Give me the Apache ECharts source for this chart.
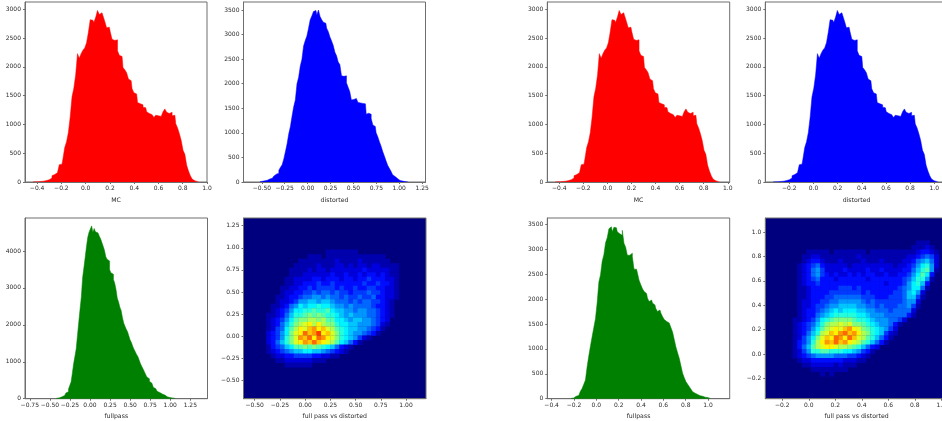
<!DOCTYPE html>
<html><head><meta charset="utf-8">
<style>html,body{margin:0;padding:0;background:#fff}#c{width:942px;height:421px;filter:blur(.35px)}</style>
<script src="https://cdn.jsdelivr.net/npm/echarts@6/dist/echarts.min.js"></script>
</head><body><div id="c"></div>
<script>
// ---------- histogram counts ----------
const mcCounts=[2,3,4,5,10,15,15,25,35,40,70,110,130,160,190,300,310,400,600,700,860,1130,1480,1630,1860,2230,2150,2230,2290,2330,2420,2600,2820,2810,2770,2860,2980,2910,2940,2890,2790,2680,2690,2610,2480,2460,2470,2280,2200,2180,1990,1950,1900,1790,1760,1620,1550,1530,1380,1360,1340,1300,1290,1220,1190,1170,1160,1120,1160,1150,1140,1170,1220,1270,1210,1190,1210,1150,1160,1010,940,840,720,550,480,290,190,110,50,20,10,5];
const distortedCounts=[5,15,20,25,35,50,60,75,95,120,160,180,240,300,350,470,620,780,980,1130,1340,1530,1670,2000,2130,2360,2500,2770,2880,2970,3130,3300,3380,3470,3490,3400,3500,3370,3300,3250,3230,3130,3060,2950,2870,2780,2640,2570,2440,2390,2160,2150,2160,2020,1930,1840,1670,1680,1700,1660,1620,1610,1600,1600,1590,1380,1400,1380,1290,1160,1130,1000,920,820,730,620,530,430,340,280,220,150,110,70,50,30,20,15,8,5,2];
const fullpassCounts=[8,15,25,35,50,65,90,120,155,190,260,360,450,690,950,1150,1350,1720,2080,2430,2760,3280,3550,3830,4120,4370,4510,4520,4680,4510,4610,4520,4490,4460,4400,4330,4230,4130,4020,3850,3780,3730,3500,3410,3370,3230,3130,2960,2720,2620,2480,2390,2200,2050,1960,1880,1810,1700,1590,1520,1420,1340,1270,1200,1140,1050,950,880,810,740,660,590,540,470,420,370,310,270,240,200,170,150,130,115,100,80,65,50,40,30,22,15,10,6];
const mcCounts2=mcCounts;
const distortedCounts2=mcCounts;
const fullpassCounts2=[8,15,30,50,65,95,150,205,290,375,640,860,1060,1250,1430,1610,1930,2340,2490,2760,2890,3130,3230,3410,3450,3350,3440,3430,3350,3310,3280,3380,3120,3040,2880,2880,2920,2850,2600,2600,2530,2380,2290,2210,2150,2110,2020,1950,1980,1920,1880,1810,1750,1780,1720,1650,1590,1550,1520,1510,1430,1340,1190,1040,920,810,660,510,420,340,290,240,190,140,110,85,72,60,48,38,30,22,15,8];

// ---------- 2D density, top row first: [first column, values...] (scale 0-22) ----------
const heatLeft=[[],[],[],[],[],[],[],
[18,1,1,1,1,1,1,1],
[14,1,1,1,0,1,1,1,1,1,1,1,1,1,1,1,1,1],
[12,1,1,1,1,1,1,1,1,2,1,1,1,1,2,1,1,1,1,1,1],
[11,1,1,1,1,1,2,1,1,1,2,2,1,2,1,2,2,1,2,2,1,1,1,1],
[10,1,1,1,1,2,1,2,2,1,2,2,2,2,2,2,2,3,2,2,2,2,2,1,1],
[10,1,1,1,2,2,2,2,2,2,3,2,2,3,2,2,3,2,3,3,2,3,2,1,1],
[9,1,1,2,2,2,2,3,3,2,3,3,3,2,3,3,2,3,3,4,3,3,3,2,2,1],
[9,1,1,2,2,3,3,3,4,3,3,4,3,3,3,3,3,3,4,3,3,4,3,3,2,1],
[8,1,1,2,2,3,3,4,3,4,4,4,4,3,4,3,3,4,3,3,4,4,3,3,2,2,1],
[8,1,2,2,3,3,4,4,5,4,5,5,4,5,4,4,3,4,4,4,5,4,4,3,2,2,1],
[7,1,1,2,3,3,4,5,5,6,6,5,6,5,5,4,5,4,4,5,4,4,5,3,3,2,2,1],
[7,1,2,2,3,4,6,6,7,7,6,7,7,6,5,5,5,4,5,4,5,5,4,4,3,2,1],
[6,1,1,2,3,5,6,8,7,8,8,9,8,8,7,6,6,5,6,5,5,5,5,4,3,3,2,1],
[6,1,2,3,4,6,8,8,9,9,10,9,9,10,8,7,7,6,6,5,6,6,5,5,4,3,2,1],
[5,1,1,2,3,5,7,9,9,10,11,10,11,10,9,9,8,7,6,7,6,6,6,5,5,4,3,2,1],
[5,1,2,3,4,6,8,10,11,11,12,12,11,12,10,10,8,8,7,6,7,7,6,6,5,4,3,2],
[5,1,2,3,5,7,9,11,12,13,14,12,14,12,11,11,9,8,8,7,7,6,6,6,5,4,2,1],
[5,1,2,4,5,8,10,12,14,13,15,16,14,15,13,12,10,9,8,7,7,6,6,5,4,3,1],
[5,2,3,4,6,8,11,13,14,17,15,16,18,14,15,13,11,9,8,7,6,6,5,4,3,1],
[5,2,3,4,6,9,11,13,16,15,17,14,17,16,14,13,11,9,8,7,6,4,2,1],
[5,2,3,5,7,9,11,13,14,16,15,17,15,14,13,12,10,8,7,5,3,1],
[5,1,3,4,5,7,8,10,10,11,10,11,10,9,8,7,5,3,2,1],
[5,1,2,3,4,5,6,7,7,8,8,7,7,6,5,4,3,2,1],
[6,1,2,2,3,3,4,4,4,4,3,3,2,2,1,1],
[7,1,1,2,2,2,2,2,2,1,1,1],
[9,1,1,1,1,1,1],
[],[],[],[],[],[],[]];
const heatRight=[[],[],[],[],[],
[33,1,1,1],
[32,1,1,1,2,1],
[9,1,1,1,1,1,0,1,1,1,1,1,1,1,0,1,1,1,1,1,1,1,1,1,1,2,3,3,2,1],
[8,1,1,2,2,1,1,1,1,1,1,1,1,2,1,1,1,1,1,1,1,1,1,1,2,2,3,4,5,4,2],
[8,1,2,3,3,2,1,1,1,2,1,1,1,1,2,1,1,1,2,1,1,1,1,2,2,3,5,6,7,5,2],
[7,1,2,3,4,5,3,2,2,2,2,2,1,2,2,2,2,2,2,2,2,2,1,2,2,3,4,6,8,9,6,2],
[7,1,2,3,5,6,4,2,2,2,2,3,2,2,2,2,3,2,2,3,2,2,2,2,3,3,5,7,9,10,6,1],
[7,1,2,3,5,6,4,3,2,3,2,2,3,2,3,2,3,3,2,2,3,2,2,3,3,4,6,8,10,8,3],
[7,1,2,3,4,5,3,3,3,2,3,3,3,3,3,3,2,3,3,3,3,3,3,3,4,5,7,9,9,6,1],
[7,1,2,3,3,4,3,3,3,3,3,3,3,3,3,3,3,3,3,3,2,3,3,3,4,6,8,9,7,3],
[7,1,1,2,3,3,3,3,3,3,4,4,4,3,4,3,3,3,3,3,3,3,3,4,5,6,8,8,5,1],
[7,1,1,2,3,3,3,3,4,4,4,4,4,4,4,3,4,3,3,3,3,3,4,4,5,7,8,6,2],
[7,1,1,2,3,3,3,4,4,5,5,5,5,5,5,4,4,4,3,3,3,4,4,4,5,7,7,4,1],
[7,1,2,2,3,3,4,4,5,5,6,6,6,6,6,5,4,5,4,4,4,4,4,4,5,6,6,2],
[7,1,2,2,3,4,4,5,6,6,7,7,7,7,6,6,5,5,4,5,4,4,4,5,5,6,4,1],
[7,1,2,3,3,4,5,6,7,8,7,8,8,8,7,7,6,6,5,5,5,4,5,5,5,5,2],
[7,1,2,3,3,5,6,7,8,9,9,9,9,9,8,8,7,6,6,6,5,5,5,5,5,3,1],
[6,1,1,2,3,4,6,8,9,10,11,11,11,11,10,9,9,8,7,6,6,6,5,5,4,2],
[6,1,2,3,4,5,7,9,11,12,12,13,12,13,11,11,10,9,8,7,6,6,5,3,1],
[6,1,2,3,4,6,8,10,12,13,14,13,15,16,14,13,11,10,9,8,7,6,4,2],
[6,1,2,3,5,7,9,12,13,15,14,16,17,15,16,14,12,11,9,8,7,4,2,1],
[6,1,2,4,6,8,11,13,15,14,17,16,14,17,15,13,12,10,9,7,5,3,1],
[6,1,3,4,6,9,12,14,16,15,17,15,16,14,13,12,10,9,7,5,3,1],
[6,1,3,5,7,10,12,13,14,14,13,12,12,11,10,9,7,5,3,2],
[6,1,2,4,6,9,9,10,10,9,9,9,8,8,7,6,4,3,1],
[6,1,2,3,4,5,6,6,6,6,5,5,5,4,4,3,2,1],
[7,1,2,2,3,3,3,3,3,3,3,2,2,2,1,1],
[8,1,1,2,2,2,2,2,1,2,1,1,1],
[10,1,1,1,1,1,1,1,1],
[12,1,0,1],
[],[],[],[],[]];

// ---------- tick values ----------
const ticksMcX=[-0.4,-0.2,0,0.2,0.4,0.6,0.8,1.0];
const ticksQuarterX=[-0.5,-0.25,0,0.25,0.5,0.75,1.0,1.25];
const ticksFullX=[-0.75,-0.5,-0.25,0,0.25,0.5,0.75,1.0,1.25];
const ticksHeatLeftX=[-0.5,-0.25,0,0.25,0.5,0.75,1.0];
const ticksHeatLeftY=[-0.5,-0.25,0,0.25,0.5,0.75,1.0,1.25];
const ticksDist2X=[-0.2,0,0.2,0.4,0.6,0.8,1.0];
const ticksHeatRightX=[-0.2,0,0.2,0.4,0.6,0.8,1.0];
const ticksHeatRightY=[-0.2,0,0.2,0.4,0.6,0.8,1.0];
const ticksCount3000=[0,500,1000,1500,2000,2500,3000];
const ticksCount3500=[0,500,1000,1500,2000,2500,3000,3500];
const ticksCount4000=[0,1000,2000,3000,4000];

// ---------- panels ----------
const jet=['#00007f','#0000ff','#007fff','#00ffff','#7fff7f','#ffff00','#ff7f00','#ff0000','#7f0000'];
const panels=[
 {box:[25,2,182,180],xr:[-0.5,1.0],yr:[0,3127],xt:ticksMcX,yt:ticksCount3000,dx:1,name:'MC',counts:mcCounts,start:-0.435,w:0.015,color:'#ff0000'},
 {box:[243.5,2,182,180],xr:[-0.70,1.287],yr:[0,3663],xt:ticksQuarterX,yt:ticksCount3500,dx:2,name:'distorted',counts:distortedCounts,start:-0.521,w:0.018,color:'#0000ff'},
 {box:[25,218,182.5,180.7],xr:[-0.81,1.464],yr:[0,4894],xt:ticksFullX,yt:ticksCount4000,dx:2,name:'fullpass',counts:fullpassCounts,start:-0.42,w:0.016,color:'#008000'},
 {box:[243.5,218,182.5,180.7],xr:[-0.611,1.198],yr:[-0.708,1.337],xt:ticksHeatLeftX,yt:ticksHeatLeftY,dx:2,dy:2,name:'full pass vs distorted',grid:heatLeft},
 {box:[547.3,2,182.4,180],xr:[-0.5,1.016],yr:[0,3127],xt:ticksMcX,yt:ticksCount3000,dx:1,name:'MC',counts:mcCounts2,start:-0.435,w:0.015,color:'#ff0000'},
 {box:[765.3,2,182.5,180],xr:[-0.399,1.112],yr:[0,3127],xt:ticksDist2X,yt:ticksCount3000,dx:1,name:'distorted',counts:distortedCounts2,start:-0.335,w:0.015,color:'#0000ff'},
 {box:[547.3,218,182.4,180.7],xr:[-0.439,1.194],yr:[0,3627],xt:ticksMcX,yt:ticksCount3500,dx:1,name:'fullpass',counts:fullpassCounts2,start:-0.225,w:0.015,color:'#008000'},
 {box:[765.3,218,182.5,180.7],xr:[-0.328,1.049],yr:[-0.367,1.115],xt:ticksHeatRightX,yt:ticksHeatRightY,dx:1,dy:1,name:'full pass vs distorted',grid:heatRight}
];
const textColor='#2a2a2a', lineColor='#6e6e6e', fam='"DejaVu Sans"';
function fmt(d){return v=>{const s=Math.abs(v).toFixed(d);return (v<0?'\u2212':'')+s;};}
const grids=[],xAxes=[],yAxes=[],series=[],vms=[];
panels.forEach((p,i)=>{
 const isHeat=!!p.grid;
 grids.push({left:p.box[0],top:p.box[1],width:p.box[2],height:p.box[3],show:true,borderColor:lineColor,borderWidth:1,
   outerBoundsMode:'none',backgroundColor:isHeat?'#00007f':'#fff'});
 const ax=(extra)=>Object.assign({type:'value',splitLine:{show:false},
   axisLine:{show:true,onZero:false,lineStyle:{color:lineColor,width:1}}},extra);
 const label={show:true,fontSize:6,color:textColor,fontFamily:fam,hideOverlap:false,showMinLabel:true,showMaxLabel:true};
 xAxes.push(ax({gridIndex:i,min:p.xr[0],max:p.xr[1],name:p.name,nameLocation:'middle',nameGap:15,
   nameTextStyle:{fontSize:6.2,color:textColor,fontFamily:fam},
   axisTick:{show:true,length:2,customValues:p.xt,lineStyle:{color:lineColor}},
   axisLabel:Object.assign({},label,{customValues:p.xt,margin:3.5,formatter:fmt(p.dx)})}));
 yAxes.push(ax({gridIndex:i,min:p.yr[0],max:p.yr[1],
   axisTick:{show:true,length:2,customValues:p.yt,lineStyle:{color:lineColor}},
   axisLabel:Object.assign({},label,{customValues:p.yt,margin:4,formatter:fmt(p.dy||0)})}));
 if(!isHeat){
  series.push({type:'line',step:'middle',xAxisIndex:i,yAxisIndex:i,silent:true,animation:false,
    showSymbol:false,symbol:'none',lineStyle:{color:p.color,width:0.5},areaStyle:{color:p.color,opacity:1},
    data:p.counts.map((c,k)=>[p.start+p.w*k,c])});
 }else{
  const rows=p.grid.length,cols=40;
  const cw=(p.xr[1]-p.xr[0])/cols,ch=(p.yr[1]-p.yr[0])/rows;
  const data=[];
  p.grid.forEach((r,ri)=>r.slice(1).forEach((v,n)=>{ if(v>0) data.push([p.xr[0]+(r[0]+n)*cw,p.yr[1]-ri*ch,v]); }));
  vms.push({show:false,seriesIndex:series.length,dimension:2,min:0,max:22,inRange:{color:jet}});
  series.push({type:'custom',xAxisIndex:i,yAxisIndex:i,silent:true,animation:false,clip:true,
    encode:{x:0,y:1},data,
    renderItem:(params,api)=>{
      const a=api.coord([api.value(0),api.value(1)]);
      const b=api.coord([api.value(0)+cw,api.value(1)-ch]);
      return {type:'rect',shape:{x:a[0],y:a[1],width:b[0]-a[0]+0.4,height:b[1]-a[1]+0.4},
        style:{fill:api.visual('color')}};
    }});
 }
});
const chart=echarts.init(document.getElementById('c'),null,{renderer:'canvas'});
chart.setOption({animation:false,backgroundColor:'#fff',grid:grids,xAxis:xAxes,yAxis:yAxes,series,visualMap:vms});
</script></body></html>
